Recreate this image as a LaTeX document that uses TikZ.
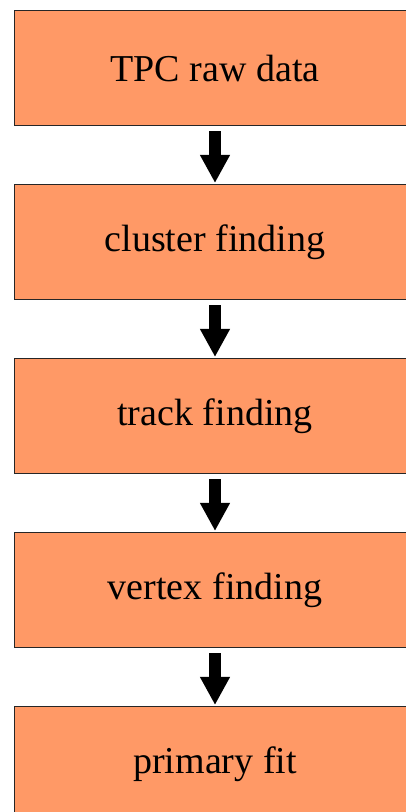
\documentclass[tikz,border=0pt]{standalone}
\usepackage{fontspec}
\setmainfont[Ligatures=NoCommon]{Liberation Serif}
\usetikzlibrary{positioning,arrows.meta}

\definecolor{boxorange}{RGB}{255,153,102}

\tikzset{
  stage/.style={draw=black!85,line width=1pt,fill=boxorange,minimum width=402pt,minimum height=115pt,
    inner sep=0pt,font=\fontsize{38}{45}\selectfont},
  flow/.style={line width=12pt,-{Triangle[width=28pt,length=28pt]},shorten <=5pt,shorten >=1.5pt}
}

\begin{document}
\begin{tikzpicture}[x=1pt,y=1pt]
\useasboundingbox (0,0) rectangle (406,812);

% Stages
\node[stage] (raw) at (215,743.5) {TPC raw data};
\node[stage,below=58pt of raw] (cluster) {cluster finding};
\node[stage,below=58pt of cluster] (track) {track finding};
\node[stage,below=58pt of track] (vertex) {vertex finding};
\node[stage,below=58pt of vertex] (fit) {primary fit};

% Arrows
\draw[flow] (raw) -- (cluster);
\draw[flow] (cluster) -- (track);
\draw[flow] (track) -- (vertex);
\draw[flow] (vertex) -- (fit);

\end{tikzpicture}
\end{document}
